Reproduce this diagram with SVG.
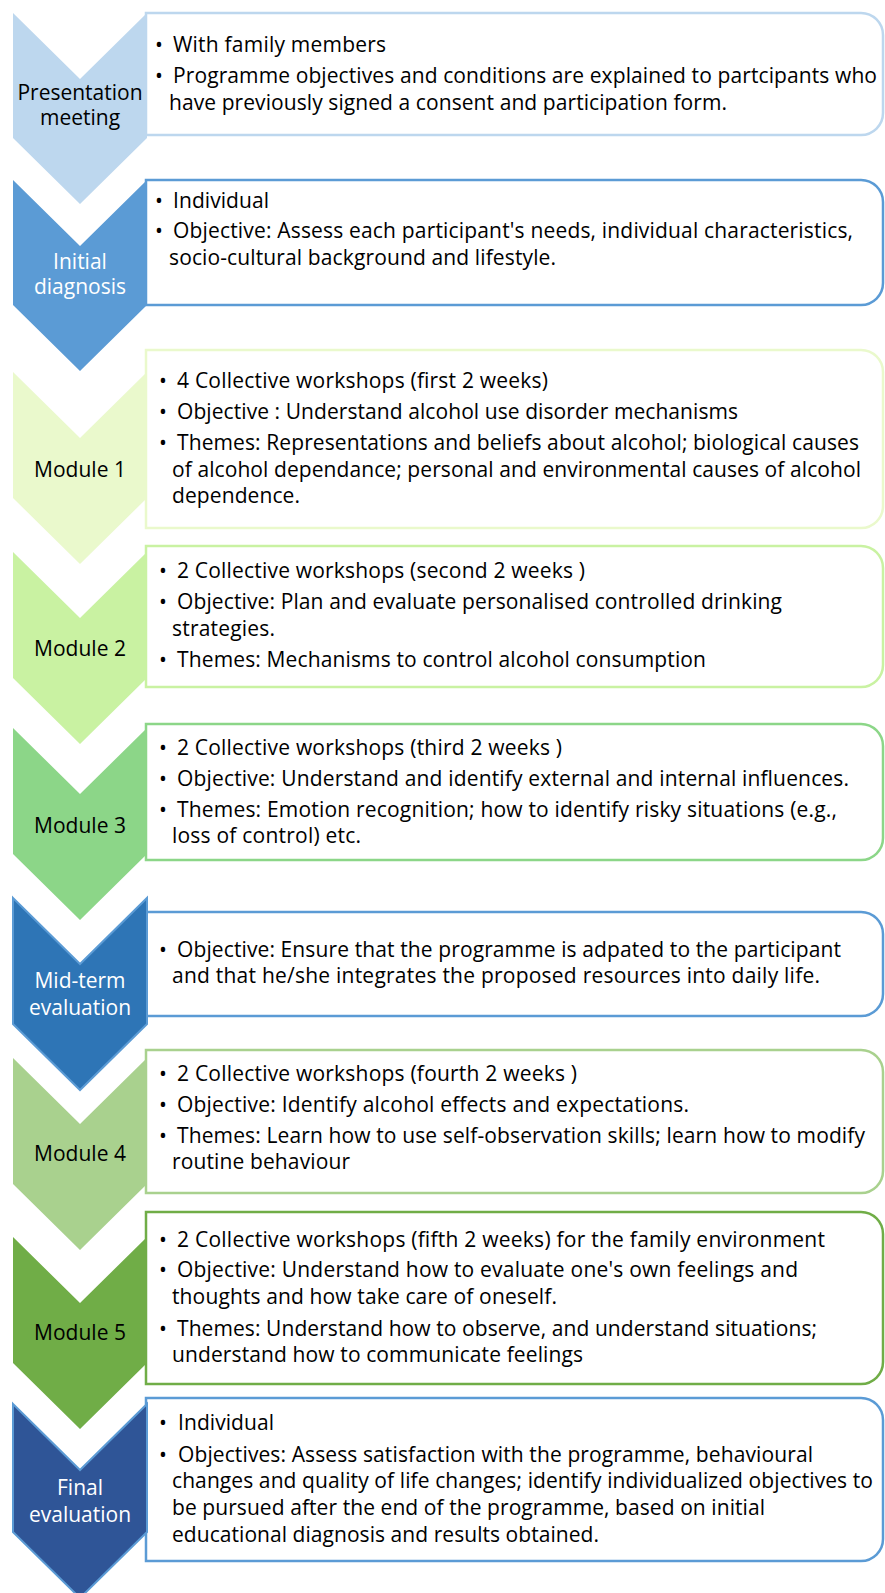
<svg xmlns="http://www.w3.org/2000/svg" width="885" height="1593" viewBox="0 0 885 1593">
<style>
.box{fill:#fff;stroke-width:2.5}
.lbl{font-family:"Open Sans","Liberation Sans",sans-serif;font-size:21px;text-anchor:middle}
.t{font-family:"Open Sans","Liberation Sans",sans-serif;font-size:21px;fill:#000}
.w{fill:#fff}
.k{fill:#000}
</style>
<rect width="885" height="1593" fill="#fff"/>
<g id="connectors"></g>

<g id="step1">
<path class="box" stroke="#BDD7EE" d="M146,13 H861 A22,22 0 0 1 883,35 V113 A22,22 0 0 1 861,135 H146 Z"/>
<path fill="#BDD7EE" d="M13,13 L80,79 L147,13 V138 L80,204 L13,138 Z"/>
<text class="lbl k" x="80" y="100">Presentation</text>
<text class="lbl k" x="80" y="125">meeting</text>
<text class="t" x="155" y="52">•</text><text class="t" x="173" y="52" textLength="213">With family members</text>
<text class="t" x="155" y="83">•</text><text class="t" x="173" y="83" textLength="704">Programme objectives and conditions are explained to partcipants who</text>
<text class="t" x="169" y="110" textLength="558">have previously signed a consent and participation form.</text>
</g>

<g id="step2">
<path class="box" stroke="#5B9BD5" d="M146,180 H861 A22,22 0 0 1 883,202 V283 A22,22 0 0 1 861,305 H146 Z"/>
<path fill="#5B9BD5" d="M13,180 L80,246 L147,180 V305 L80,371 L13,305 Z"/>
<text class="lbl w" x="80" y="269">Initial</text>
<text class="lbl w" x="80" y="294">diagnosis</text>
<text class="t" x="155" y="208">•</text><text class="t" x="173" y="208" textLength="96">Individual</text>
<text class="t" x="155" y="238">•</text><text class="t" x="173" y="238" textLength="680">Objective: Assess each participant's needs, individual characteristics,</text>
<text class="t" x="169" y="265" textLength="387">socio-cultural background and lifestyle.</text>
</g>

<g id="step3">
<path class="box" stroke="#EAF9CC" d="M146,350 H861 A22,22 0 0 1 883,372 V506 A22,22 0 0 1 861,528 H146 Z"/>
<path fill="#EAF9CC" d="M13,372 L80,438 L147,372 V498 L80,564 L13,498 Z"/>
<text class="lbl k" x="80" y="477">Module 1</text>
<text class="t" x="159" y="388">•</text><text class="t" x="177" y="388" textLength="371">4 Collective workshops (first 2 weeks)</text>
<text class="t" x="159" y="419">•</text><text class="t" x="177" y="419" textLength="561">Objective : Understand alcohol use disorder mechanisms</text>
<text class="t" x="159" y="450">•</text><text class="t" x="177" y="450" textLength="682">Themes: Representations and beliefs about alcohol; biological causes</text>
<text class="t" x="172" y="477" textLength="689">of alcohol dependance; personal and environmental causes of alcohol</text>
<text class="t" x="172" y="503" textLength="128">dependence.</text>
</g>

<g id="step4">
<path class="box" stroke="#C9F2A2" d="M146,546 H861 A22,22 0 0 1 883,568 V665 A22,22 0 0 1 861,687 H146 Z"/>
<path fill="#C9F2A2" d="M13,552 L80,618 L147,552 V678 L80,744 L13,678 Z"/>
<text class="lbl k" x="80" y="656">Module 2</text>
<text class="t" x="159" y="578">•</text><text class="t" x="177" y="578" textLength="408">2 Collective workshops (second 2 weeks )</text>
<text class="t" x="159" y="609">•</text><text class="t" x="177" y="609" textLength="605">Objective: Plan and evaluate personalised controlled drinking</text>
<text class="t" x="172" y="636" textLength="103">strategies.</text>
<text class="t" x="159" y="667">•</text><text class="t" x="177" y="667" textLength="529">Themes: Mechanisms to control alcohol consumption</text>
</g>

<g id="step5">
<path class="box" stroke="#8CD688" d="M146,724 H861 A22,22 0 0 1 883,746 V838 A22,22 0 0 1 861,860 H146 Z"/>
<path fill="#8CD688" d="M13,728 L80,794 L147,728 V854 L80,920 L13,854 Z"/>
<text class="lbl k" x="80" y="833">Module 3</text>
<text class="t" x="159" y="755">•</text><text class="t" x="177" y="755" textLength="385">2 Collective workshops (third 2 weeks )</text>
<text class="t" x="159" y="786">•</text><text class="t" x="177" y="786" textLength="672">Objective: Understand and identify external and internal influences.</text>
<text class="t" x="159" y="817">•</text><text class="t" x="177" y="817" textLength="660">Themes: Emotion recognition; how to identify risky situations (e.g.,</text>
<text class="t" x="172" y="843" textLength="189">loss of control) etc.</text>
</g>

<g id="step6">
<path class="box" stroke="#5B9BD5" d="M146,912 H861 A22,22 0 0 1 883,934 V994 A22,22 0 0 1 861,1016 H146 Z"/>
<path fill="#2E75B6" stroke="#5B9BD5" stroke-width="2" d="M13,898 L80,964 L147,898 V1024 L80,1090 L13,1024 Z"/>
<text class="lbl w" x="80" y="988">Mid-term</text>
<text class="lbl w" x="80" y="1015">evaluation</text>
<text class="t" x="159" y="957">•</text><text class="t" x="177" y="957" textLength="664">Objective: Ensure that the programme is adpated to the participant</text>
<text class="t" x="172" y="983" textLength="648">and that he/she integrates the proposed resources into daily life.</text>
</g>

<g id="step7">
<path class="box" stroke="#A9D18E" d="M146,1050 H861 A22,22 0 0 1 883,1072 V1171 A22,22 0 0 1 861,1193 H146 Z"/>
<path fill="#A9D18E" d="M13,1058 L80,1124 L147,1058 V1184 L80,1250 L13,1184 Z"/>
<text class="lbl k" x="80" y="1161">Module 4</text>
<text class="t" x="159" y="1081">•</text><text class="t" x="177" y="1081" textLength="400">2 Collective workshops (fourth 2 weeks )</text>
<text class="t" x="159" y="1112">•</text><text class="t" x="177" y="1112" textLength="512">Objective: Identify alcohol effects and expectations.</text>
<text class="t" x="159" y="1143">•</text><text class="t" x="177" y="1143" textLength="688">Themes: Learn how to use self-observation skills; learn how to modify</text>
<text class="t" x="172" y="1169" textLength="178">routine behaviour</text>
</g>

<g id="step8">
<path class="box" stroke="#70AD47" d="M146,1212 H861 A22,22 0 0 1 883,1234 V1362 A22,22 0 0 1 861,1384 H146 Z"/>
<path fill="#70AD47" d="M13,1237 L80,1303 L147,1237 V1363 L80,1429 L13,1363 Z"/>
<text class="lbl k" x="80" y="1340">Module 5</text>
<text class="t" x="159" y="1247">•</text><text class="t" x="177" y="1247" textLength="648">2 Collective workshops (fifth 2 weeks) for the family environment</text>
<text class="t" x="159" y="1277">•</text><text class="t" x="177" y="1277" textLength="621">Objective: Understand how to evaluate one's own feelings and</text>
<text class="t" x="172" y="1304" textLength="385">thoughts and how take care of oneself.</text>
<text class="t" x="159" y="1336">•</text><text class="t" x="177" y="1336" textLength="640">Themes: Understand how to observe, and understand situations;</text>
<text class="t" x="172" y="1362" textLength="411">understand how to communicate feelings</text>
</g>

<g id="step9">
<path class="box" stroke="#5B9BD5" d="M146,1398 H861 A22,22 0 0 1 883,1420 V1539 A22,22 0 0 1 861,1561 H146 Z"/>
<path fill="#2F5597" stroke="#5B9BD5" stroke-width="2" d="M13,1404 L80,1470 L147,1404 V1532 L80,1598 L13,1532 Z"/>
<text class="lbl w" x="80" y="1495">Final</text>
<text class="lbl w" x="80" y="1522">evaluation</text>
<text class="t" x="159" y="1430">•</text><text class="t" x="178" y="1430" textLength="96">Individual</text>
<text class="t" x="159" y="1462">•</text><text class="t" x="178" y="1462" textLength="635">Objectives: Assess satisfaction with the programme, behavioural</text>
<text class="t" x="172" y="1488" textLength="701">changes and quality of life changes; identify individualized objectives to</text>
<text class="t" x="172" y="1515" textLength="593">be pursued after the end of the programme, based on initial</text>
<text class="t" x="172" y="1542" textLength="427">educational diagnosis and results obtained.</text>
</g>
</svg>
